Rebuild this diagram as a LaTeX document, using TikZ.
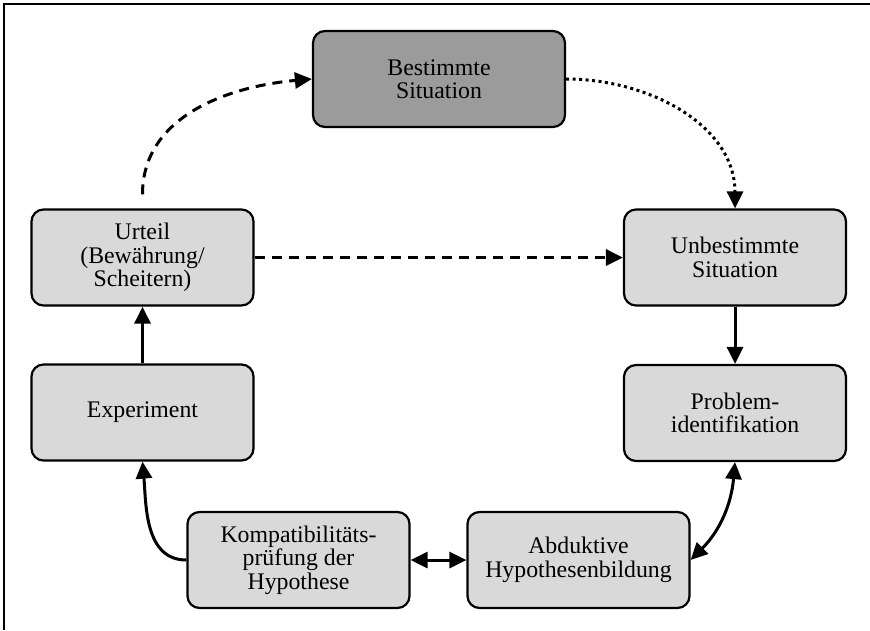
\documentclass[tikz,border=0pt]{standalone}
\usepackage{fontspec}
\setmainfont{Liberation Serif}
\usetikzlibrary{arrows.meta}
\begin{document}
\begin{tikzpicture}[x=1pt,y=-1pt,
  box/.style={draw=black, line width=2.2pt, rounded corners=12pt, fill=boxgray,
    minimum width=222pt, minimum height=96pt, align=center, inner sep=0pt,
    font=\fontsize{23.8}{23.5}\selectfont},
  tip/.tip={Triangle[length=17pt,width=16pt]},
  conn/.style={line width=3pt, -tip},
  dconn/.style={line width=3pt, tip-tip},
  dashline/.style={dash pattern=on 10pt off 7pt},
  dotline/.style={dash pattern=on 3pt off 3.5pt}
]
\definecolor{boxgray}{HTML}{D9D9D9}
\definecolor{darkbox}{HTML}{9B9B9B}
\useasboundingbox (0,0) rectangle (870,630);
\draw[line width=1.8pt] (4,630) -- (4,4) -- (870,4);

\node[box, fill=darkbox, minimum width=252pt] (best) at (439,79) {Bestimmte\\Situation};
\node[box] (unbest) at (735,257.5) {Unbestimmte\\Situation};
\node[box] (prob) at (735,413) {Problem-\\identifikation};
\node[box] (abd) at (578.5,560) {Abduktive\\Hypothesenbildung};
\node[box] (komp) at (298.5,560) {Kompatibilitäts-\\prüfung der\\Hypothese};
\node[box] (exp) at (142.5,412.5) {Experiment};
\node[box] (urt) at (142.5,257.5) {Urteil\\(Bewährung/\\Scheitern)};

\draw[conn, dashline] (urt.north) ++(0,-14) coordinate (us) to[out=90,in=185] (best.west);
\draw[conn, dotline] (best.east) to[out=0,in=90] (unbest.north);
\draw[conn, dashline] (urt.east) -- (unbest.west);
\draw[conn] (unbest.south) -- (prob.north);
\draw[dconn] (prob.south) to[out=-95,in=45] (abd.east);
\draw[dconn] (komp.east) -- (abd.west);
\draw[conn] (komp.west) to[out=180,in=-85] (exp.south);
\draw[conn] (exp.north) -- (urt.south);
\end{tikzpicture}
\end{document}
